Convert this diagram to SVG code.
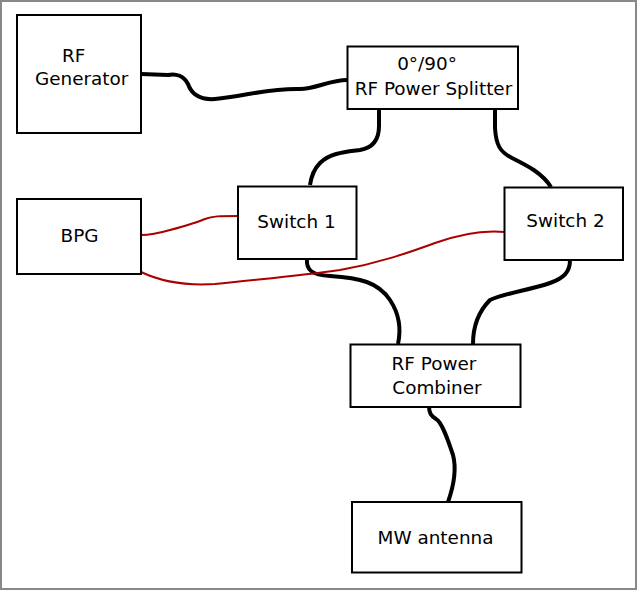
<svg xmlns="http://www.w3.org/2000/svg" width="638" height="591" viewBox="0 0 638 591">
<style>
.box{fill:#fff;stroke:#000;stroke-width:2}
.lbl{font-family:"DejaVu Sans",Verdana,sans-serif;font-size:18.4px;fill:#000}
.rf{fill:none;stroke:#000;stroke-width:4;stroke-linecap:butt}
.ctl{fill:none;stroke:#aa0000;stroke-width:2}
</style>
<rect x="1" y="1" width="635" height="588" fill="#fff" stroke="#888" stroke-width="2"/>
<g id="connectors">
<path class="rf" d="M141,74 L168,75 C176,73 184,76 188,84 C192,96 203,100 215,99 C245,96 270,88 300,89 C315,89 330,80 347,80"/>
<path class="rf" d="M379,109 L379,126 C379,140 372,148 360,150 C345,152 330,153 320,163 C313,170 311,178 310,185"/>
<path class="rf" d="M495,109 L495,128 C496,145 500,152 512,158 C528,166 542,173 551,187"/>
<path class="rf" d="M307,259 C306,270 312,275 330,276 C360,278 378,282 390,300 C400,315 401,330 398,344"/>
<path class="rf" d="M570,260 C570,272 564,278 550,283 C530,290 505,293 490,300 C480,310 473,325 473,344"/>
<path class="rf" d="M429,406 C429,413 431,416 436,419 C442,422 448,440 453,455 C457,470 454,485 448,502"/>
<path class="ctl" d="M141,235 C150,235 156,234 170,230 C185,226 196,223 205,219 C212,216 220,216 238,216"/>
<path class="ctl" d="M141,272 C160,281 185,286 215,284 C260,279 300,276 340,270 C380,263 410,252 435,243 C460,234 485,230 505,232"/>
</g>
<g id="rf-generator">
<rect class="box" x="17" y="15" width="124" height="118"/>
<text class="lbl" x="62" y="62">RF</text>
<text class="lbl" x="35" y="85">Generator</text>
</g>
<g id="splitter">
<rect class="box" x="347.5" y="46.5" width="170.5" height="62.5"/>
<text class="lbl" x="427" y="70" text-anchor="middle">0°/90°</text>
<text class="lbl" x="433.5" y="95" text-anchor="middle">RF Power Splitter</text>
</g>
<g id="bpg">
<rect class="box" x="17" y="199" width="124" height="75"/>
<text class="lbl" x="79.5" y="242" text-anchor="middle">BPG</text>
</g>
<g id="switch1">
<rect class="box" x="238" y="186.5" width="118.5" height="72.5"/>
<text class="lbl" x="296.5" y="228" text-anchor="middle">Switch 1</text>
</g>
<g id="switch2">
<rect class="box" x="504.5" y="187.5" width="118.5" height="72.5"/>
<text class="lbl" x="565.5" y="227" text-anchor="middle">Switch 2</text>
</g>
<g id="combiner">
<rect class="box" x="350.5" y="344.5" width="170" height="62.5"/>
<text class="lbl" x="434" y="370" text-anchor="middle">RF Power</text>
<text class="lbl" x="437" y="393.5" text-anchor="middle">Combiner</text>
</g>
<g id="antenna">
<rect class="box" x="352" y="502" width="169.5" height="70.5"/>
<text class="lbl" x="435.5" y="544" text-anchor="middle">MW antenna</text>
</g>
</svg>
